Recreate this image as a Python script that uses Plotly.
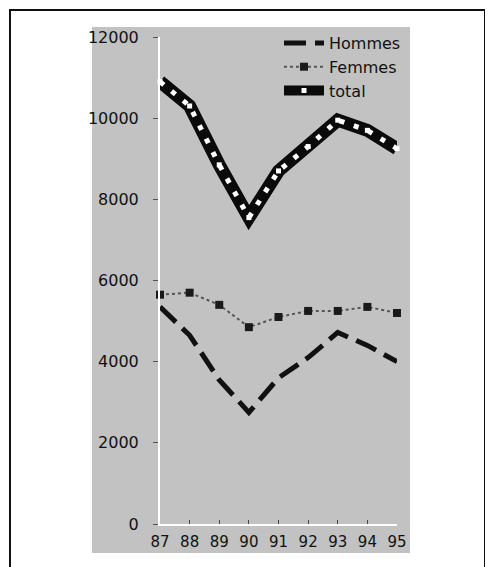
import plotly.graph_objects as go

years = [87, 88, 89, 90, 91, 92, 93, 94, 95]
year_labels = ["87", "88", "89", "90", "91", "92", "93", "94", "95"]
hommes = [5350, 4650, 3550, 2750, 3600, 4100, 4720, 4400, 4000]
femmes = [5650, 5700, 5400, 4850, 5100, 5250, 5250, 5350, 5200]
total = [10900, 10300, 8850, 7550, 8700, 9300, 9950, 9700, 9250]
y_ticks = [0, 2000, 4000, 6000, 8000, 10000, 12000]
y_labels = ["0", "2000", "4000", "6000", "8000", "10000", "12000"]

FONT = "DejaVu Sans"

fig = go.Figure()

fig.add_trace(go.Scatter(
    x=years, y=hommes, name="Hommes", mode="lines",
    line=dict(color="#111111", width=5, dash="22px,9px"),
    cliponaxis=False,
))
fig.add_trace(go.Scatter(
    x=years, y=femmes, name="Femmes", mode="lines+markers",
    line=dict(color="#555555", width=2, dash="dot"),
    marker=dict(symbol="square", size=8, color="#1a1a1a"),
    cliponaxis=False,
))
fig.add_trace(go.Scatter(
    x=years, y=total, name="total", mode="lines+markers",
    line=dict(color="#0a0a0a", width=13),
    marker=dict(symbol="square", size=5, color="white"),
    cliponaxis=False,
))
fig.add_trace(go.Scatter(
    x=years, y=total, name="total", mode="lines", showlegend=False,
    line=dict(color="white", width=5, dash="5px,10px"),
    cliponaxis=False, hoverinfo="skip",
))

# page body has an 8px margin; figure is sized and positioned to compensate
OFF = 8
W, H = 493 - OFF, 567 - OFF
ml, mr, mt, mb = 160 - OFF, 96, 37 - OFF, 43
pw, ph = W - ml - mr, H - mt - mb

def px_x(screen):
    return (screen - OFF - ml) / pw

def px_y(screen):
    return (H - mb - (screen - OFF)) / ph

fig.update_layout(
    width=W, height=H,
    margin=dict(l=ml, r=mr, t=mt, b=mb, pad=0),
    paper_bgcolor="white",
    plot_bgcolor="rgba(0,0,0,0)",
    font=dict(family=FONT, color="#111111"),
    showlegend=True,
    legend=dict(
        x=px_x(279), y=px_y(26), xanchor="left", yanchor="top",
        bgcolor="rgba(0,0,0,0)", borderwidth=0,
        font=dict(family=FONT, size=16, color="#111111"),
        tracegroupgap=0, itemwidth=40,
    ),
    xaxis=dict(
        range=[87, 95], tickvals=years, ticktext=year_labels,
        ticks="inside", ticklen=4, tickwidth=1, tickcolor="#444444",
        showline=True, linecolor="white", linewidth=2,
        showgrid=False, zeroline=False,
        tickfont=dict(family=FONT, size=15, color="#111111"),
        ticklabelstandoff=3,
    ),
    yaxis=dict(
        range=[0, 12000], tickvals=y_ticks, ticktext=y_labels,
        ticks="outside", ticklen=5, tickwidth=1, tickcolor="#555555",
        showline=True, linecolor="white", linewidth=2,
        showgrid=False, zeroline=False,
        tickfont=dict(family=FONT, size=16, color="#111111"),
        ticklabelstandoff=11,
    ),
    shapes=[
        dict(type="rect", xref="paper", yref="paper", layer="below",
             x0=px_x(92), x1=px_x(410), y0=px_y(553), y1=px_y(27),
             fillcolor="#c2c2c2", line=dict(width=0)),
        dict(type="rect", xref="paper", yref="paper", layer="below",
             x0=px_x(10), x1=px_x(485), y0=px_y(590), y1=px_y(10),
             fillcolor="rgba(0,0,0,0)", line=dict(color="#111111", width=2)),
    ],
)

fig.write_html("out.html")
